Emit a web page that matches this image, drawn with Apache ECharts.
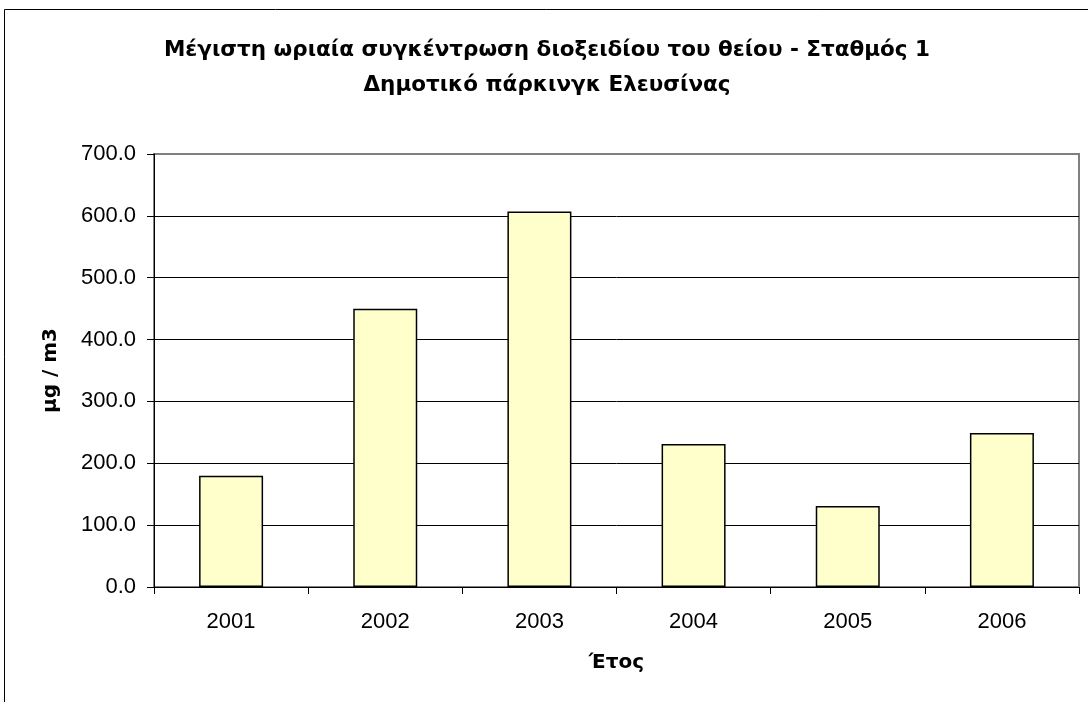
<!DOCTYPE html>
<html>
<head>
<meta charset="utf-8">
<script src="https://cdn.jsdelivr.net/npm/echarts@6/dist/echarts.min.js"></script>
<style>
  html, body { margin: 0; padding: 0; background: #fff; }
  #chart { width: 1088px; height: 702px; }
</style>
</head>
<body>
<div id="chart"></div>
<script>
// Maximum hourly SO2 concentration per year, Station 1
const years = ['2001', '2002', '2003', '2004', '2005', '2006'];
const maxHourly = [180, 450, 607, 231, 131, 249];
const yTicks = [0, 100, 200, 300, 400, 500, 600, 700];

const titleLines = [
  'Μέγιστη ωριαία συγκέντρωση διοξειδίου του θείου - Σταθμός 1',
  'Δημοτικό πάρκινγκ Ελευσίνας'
];
const xName = 'Έτος';
const yName = 'μg / m3';

const FONT = '"Liberation Sans", Arial, sans-serif';
const BOLD_FONT = '"DejaVu Sans", "Liberation Sans", sans-serif';

const chart = echarts.init(document.getElementById('chart'), null, { renderer: 'canvas' });

// gridline colours: inner lines black, the top one matches the plot frame
const splitColors = yTicks.map((v, i) => i === yTicks.length - 1 ? '#808080' : '#000000');

chart.setOption({
  animation: false,
  backgroundColor: '#ffffff',
  title: {
    text: titleLines.join('\n'),
    left: 542,
    top: 28,
    textAlign: 'center',
    textStyle: {
      fontFamily: BOLD_FONT,
      fontWeight: 'bold',
      fontSize: 21.5,
      lineHeight: 35,
      color: '#000'
    }
  },
  graphic: [
    {
      type: 'rect',
      shape: { x: 4.5, y: 9.5, width: 1200, height: 800 },
      style: { fill: 'none', stroke: '#000', lineWidth: 1 },
      silent: true,
      z: 0
    }
  ],
  grid: {
    left: 154,
    right: 9,
    top: 154,
    bottom: 115,
    show: true,
    borderColor: '#808080',
    borderWidth: 2,
    backgroundColor: '#ffffff'
  },
  xAxis: {
    type: 'category',
    data: years,
    name: xName,
    nameLocation: 'middle',
    nameGap: 66,
    nameTextStyle: { fontFamily: BOLD_FONT, fontWeight: 'bold', fontSize: 20, color: '#000' },
    axisLine: { show: true, lineStyle: { color: '#000', width: 1 } },
    axisTick: { show: true, inside: false, length: 7, alignWithLabel: false, lineStyle: { color: '#000' } },
    axisLabel: { fontFamily: FONT, fontSize: 22, color: '#000', margin: 24 },
    splitLine: { show: false }
  },
  yAxis: {
    type: 'value',
    min: 0,
    max: 700,
    interval: 100,
    name: yName,
    nameLocation: 'middle',
    nameGap: 93,
    nameRotate: 90,
    nameTextStyle: { fontFamily: BOLD_FONT, fontWeight: 'bold', fontSize: 20, color: '#000' },
    axisLine: { show: true, lineStyle: { color: '#000', width: 1 } },
    axisTick: { show: true, inside: false, length: 7, lineStyle: { color: '#000' } },
    axisLabel: {
      fontFamily: FONT,
      fontSize: 22,
      color: '#000',
      margin: 18,
      formatter: v => v.toFixed(1)
    },
    splitLine: { show: true, lineStyle: { color: splitColors, width: 1 } }
  },
  series: [
    {
      type: 'bar',
      data: maxHourly,
      barWidth: 64,
      itemStyle: {
        color: '#FFFFCC',
        borderColor: '#000',
        borderWidth: 1.5
      }
    }
  ]
});
</script>
</body>
</html>
